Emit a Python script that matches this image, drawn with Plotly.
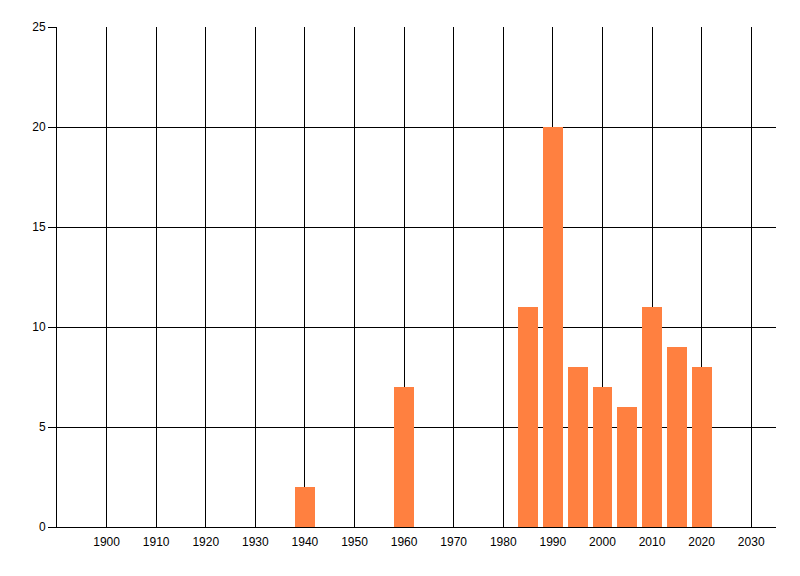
import plotly.graph_objects as go

years = [1940, 1960, 1985, 1990, 1995, 2000, 2005, 2010, 2015, 2020]
counts = [2, 7, 11, 20, 8, 7, 6, 11, 9, 8]
x_ticks = list(range(1900, 2031, 10))
y_ticks = [0, 5, 10, 15, 20, 25]

fig = go.Figure()
fig.add_trace(go.Bar(x=years, y=counts, width=4, marker=dict(color="#FF8040", line=dict(width=0))))

fig.update_layout(
    width=800, height=576,
    margin=dict(l=49, r=32, t=19, b=57),
    plot_bgcolor="white", paper_bgcolor="white",
    showlegend=False,
    font=dict(family="Liberation Sans, Arial, sans-serif", size=12, color="black"),
    bargap=0,
)
fig.update_xaxes(
    range=[1890, 2035], tickvals=x_ticks, ticktext=[str(t) for t in x_ticks],
    showgrid=True, gridcolor="black", gridwidth=1,
    showline=True, linecolor="black", linewidth=1,
    ticks="outside", ticklen=4, tickcolor="rgba(0,0,0,0)",
    zeroline=False,
)
fig.update_yaxes(
    range=[0, 25], tickvals=y_ticks,
    showgrid=True, gridcolor="black", gridwidth=1,
    showline=True, linecolor="black", linewidth=1,
    ticks="outside", ticklen=8, tickcolor="black",
    zeroline=False,
)
fig.write_html("out.html")
